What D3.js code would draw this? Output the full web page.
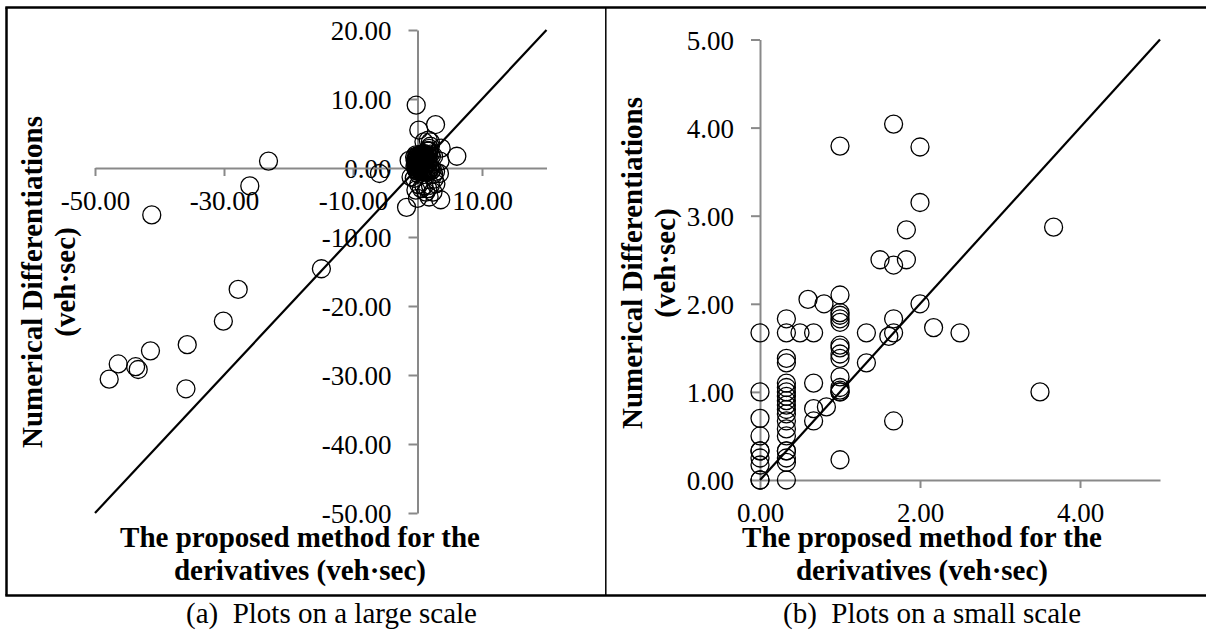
<!DOCTYPE html>
<html>
<head>
<meta charset="utf-8">
<script src="https://cdn.jsdelivr.net/npm/d3@7"></script>
<style>
  html, body { margin: 0; padding: 0; background: #fff; }
  svg { display: block; }
  text { font-family: "Liberation Serif", "Times New Roman", serif; }
</style>
</head>
<body>
<svg id="chart" width="1206" height="630"></svg>
<script>
// ---- Data: points close to the origin (visible in both panels) ----
const smallX = [
  0, 0, 0, 0, 0, 0, 0, 0, 0, 0,
  0.33, 0.33, 0.33, 0.33, 0.33, 0.33, 0.33, 0.33, 0.33, 0.33,
  0.33, 0.33, 0.33, 0.33, 0.33, 0.33, 0.33, 0.33, 0.33, 0.33,
  0.5, 0.6, 0.67, 0.67, 0.67, 0.67, 0.8, 0.83,
  1, 1, 1, 1, 1, 1, 1, 1, 1, 1, 1, 1, 1, 1, 1,
  1.33, 1.33, 1.5, 1.61, 1.67, 1.67, 1.67, 1.67, 1.67, 1.83, 1.83,
  2, 2, 2, 2.17, 2.5, 3.5, 3.67, 1
];
const smallY = [
  0, 0, 0.17, 0.25, 0.33, 0.33, 0.5, 0.7, 1.0, 1.67,
  0, 0.2, 0.25, 0.33, 0.33, 0.5, 0.58, 0.67, 0.75, 0.8,
  0.85, 0.9, 0.95, 1.0, 1.05, 1.1, 1.33, 1.38, 1.67, 1.83,
  1.67, 2.05, 0.67, 0.81, 1.1, 1.67, 2.0, 0.83,
  0.23, 1.0, 1.0, 1.02, 1.05, 1.17, 1.38, 1.43, 1.5, 1.53, 1.79, 1.83, 1.87, 1.9, 2.1,
  1.33, 1.67, 2.5, 1.63, 0.67, 1.67, 1.83, 2.44, 4.04, 2.5, 2.84,
  2.0, 3.15, 3.78, 1.73, 1.67, 1.0, 2.87, 3.79
];
// ---- Data: points only visible in the large-scale panel ----
const outerX = [
  -0.1, -0.2, -0.15, -0.25, -0.1, -0.2, -0.15, -0.25, -0.05, -0.05,
  -0.1, -0.3, -0.3, -0.05, -0.2, -0.4, -0.35, -0.45,
  0.1, 0.3, 0.5, 0.7, 0.9, 1.1, 1.3, 1.5, 1.7, 1.9,
  2.1, 2.3, 0.4, 1.2, 2.0, 0.8, 1.6, 2.8, 2.5, 0.2,
  0.2, 1.0, 2.0, 0.6, 1.6, -0.5, 2.6,
  -0.25, 1.3, 2.4, 0, 1.8, 2.85, 3.4, -1.3, -1.0, 3.6,
  -1.7, -5.9, -0.2, 2.8, 0.2, 6.1, -23.1, -26.0, -41.2, -14.9,
  -27.8, -30.1, -35.7, -41.4, -46.4, -43.7, -43.3, -47.8, -35.9
];
const outerY = [
  -0.4, 0.1, 0.4, 0.7, 1.0, 1.3, 1.6, 1.9, 0.25, 0.85,
  1.45, 0.55, 1.15, 1.75, -0.2, 0.2, 1.0, 1.6,
  -0.5, -0.3, -0.55, -0.2, -0.45, -0.1, -0.5, -0.25, -0.45, -0.15,
  -0.4, -0.2, -0.1, -0.3, -0.05, -0.6, -0.6, -0.5, -0.9, -0.9,
  -2.4, -2.6, -2.5, -3.0, -3.0, -1.5, -1.6,
  -3.2, -3.5, -3.5, -4.4, -4.2, -2.3, -0.8, 1.1, -1.3, -4.6,
  -5.7, -0.8, 9.1, 6.3, 5.5, 1.7, 1.0, -2.6, -6.8, -14.6,
  -17.6, -22.2, -25.6, -26.5, -28.4, -28.8, -29.2, -30.6, -32.0
];
// ---- Axis ticks ----
const leftXTicks = [-50, -30, -10, 10];
const leftYTicks = [20, 10, 0, -10, -20, -30, -40, -50];
const rightXTicks = [0, 2, 4];
const rightYTicks = [0, 1, 2, 3, 4, 5];
const leftDomain = [-50, 20];
const rightDomain = [0, 5];
const yTitle = ["Numerical Differentiations", "(veh·sec)"];
const xTitle = ["The proposed method for the", "derivatives (veh·sec)"];
const captions = ["(a)\u00a0\u00a0Plots on a large scale", "(b)\u00a0\u00a0Plots on a small scale"];

const svg = d3.select("#chart");
const fmt = d => d.toFixed(2);
const AXIS = "#898989";

// frame
const frame = svg.append("g").attr("stroke", "#000").attr("fill", "none");
frame.append("line").attr("x1", 5.3).attr("x2", 1206).attr("y1", 7.5).attr("y2", 7.5).attr("stroke-width", 2.5);
frame.append("line").attr("x1", 5.3).attr("x2", 1206).attr("y1", 595.5).attr("y2", 595.5).attr("stroke-width", 2.5);
frame.append("line").attr("x1", 6.5).attr("x2", 6.5).attr("y1", 7.5).attr("y2", 595.5).attr("stroke-width", 2.5);
frame.append("line").attr("x1", 605.8).attr("x2", 605.8).attr("y1", 7.5).attr("y2", 595.5).attr("stroke-width", 1.5);

function panel(cfg) {
  const x = d3.scaleLinear().domain(cfg.domain).range(cfg.xr);
  const y = d3.scaleLinear().domain(cfg.domain).range(cfg.yr);
  const g = svg.append("g");

  const yAxis = d3.axisLeft(y).tickValues(cfg.yTicks).tickFormat(fmt)
    .tickSize(9).tickSizeOuter(0).tickPadding(17);
  const xAxis = d3.axisBottom(x).tickValues(cfg.xTicks).tickFormat(fmt)
    .tickSize(8).tickSizeOuter(0).tickPadding(15);

  const gy = g.append("g").attr("transform", `translate(${x(0)},0)`).call(yAxis);
  const gx = g.append("g").attr("transform", `translate(0,${y(0)})`).call(xAxis);
  [gx, gy].forEach(a => {
    a.select(".domain").attr("stroke", AXIS).attr("stroke-width", 2);
    a.selectAll(".tick line").attr("stroke", AXIS).attr("stroke-width", 2);
    a.selectAll(".tick text").attr("fill", "#000")
      .style("font-family", '"Liberation Serif", serif').style("font-size", "27px");
  });
  gy.selectAll(".tick text").attr("dy", "0.36em");

  // points
  const pts = cfg.points.filter(p => p[0] >= cfg.domain[0] && p[0] <= cfg.domain[1] &&
                                     p[1] >= cfg.domain[0] && p[1] <= cfg.domain[1]);
  g.append("g").selectAll("circle").data(pts).join("circle")
    .attr("cx", d => x(d[0])).attr("cy", d => y(d[1])).attr("r", 9)
    .attr("fill", "none").attr("stroke", "#000").attr("stroke-width", 1.3);

  // diagonal y = x
  g.append("line")
    .attr("x1", x(cfg.domain[0])).attr("y1", y(cfg.domain[0]))
    .attr("x2", x(cfg.domain[1])).attr("y2", y(cfg.domain[1]))
    .attr("stroke", "#000").attr("stroke-width", 2.2);

  // titles
  const tt = g.append("g").style("font-weight", "bold").style("font-size", "29px").attr("fill", "#000");
  xTitle.forEach((t, i) => tt.append("text").attr("x", cfg.xtx).attr("y", 547 + i * 33)
    .attr("text-anchor", "middle").text(t));
  yTitle.forEach((t, i) => tt.append("text")
    .attr("transform", `translate(${cfg.ytx + i * 33},${cfg.yty}) rotate(-90)`)
    .attr("text-anchor", "middle").text(t));

  g.append("text").attr("x", cfg.capx).attr("y", 623).style("font-size", "29px")
    .attr("fill", "#000").text(cfg.caption);
}

const smallPts = smallX.map((v, i) => [v, smallY[i]]);
const outerPts = outerX.map((v, i) => [v, outerY[i]]);

panel({
  domain: leftDomain, xr: [95, 546.5], yr: [513, 30],
  xTicks: leftXTicks, yTicks: leftYTicks,
  points: outerPts.concat(smallPts),
  xtx: 300, ytx: 42, yty: 282, capx: 186, caption: captions[0]
});
panel({
  domain: rightDomain, xr: [760, 1160], yr: [480, 39.5],
  xTicks: rightXTicks, yTicks: rightYTicks,
  points: smallPts.concat(outerPts),
  xtx: 922, ytx: 642, yty: 263, capx: 783, caption: captions[1]
});
</script>
</body>
</html>
